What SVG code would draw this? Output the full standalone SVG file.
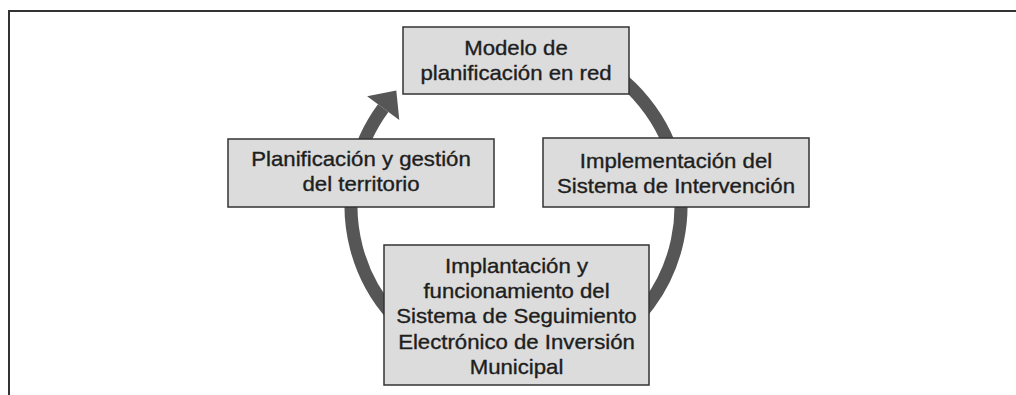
<svg xmlns="http://www.w3.org/2000/svg" width="1016" height="395" viewBox="0 0 1016 395">
<style>
.frame{fill:none;stroke:#333;stroke-width:2}
.ring{fill:none;stroke:#565656;stroke-width:13}
.head{fill:#565656}
.box{fill:#dcdcdc;stroke:#333;stroke-width:1.5}
.lbl{font-family:"Liberation Sans",Arial,Helvetica,sans-serif;font-size:20px;fill:#1e1e1e;stroke:#1e1e1e;stroke-width:0.35;text-anchor:middle}
</style>
<rect width="1016" height="395" fill="#fff"/>
<path class="frame" d="M9 395 V11 H1016"/>
<g id="connectors">
<path class="ring" d="M516 41 A165 165 0 1 1 383.2 108.1"/>
<polygon class="head" points="396.3,90.4 367.1,96.2 399.3,120"/>
</g>
<g id="node-modelo">
<rect class="box" x="403" y="27" width="226" height="67"/>
<text class="lbl" transform="matrix(1.11 0 0 1 516 0)"><tspan x="0" y="55">Modelo de</tspan><tspan x="0" y="80">planificación en red</tspan></text>
</g>
<g id="node-planificacion">
<rect class="box" x="228" y="139" width="266" height="68"/>
<text class="lbl" transform="matrix(1.11 0 0 1 361 0)"><tspan x="0" y="165.7">Planificación y gestión</tspan><tspan x="0" y="190.7">del territorio</tspan></text>
</g>
<g id="node-implementacion">
<rect class="box" x="543" y="138" width="266" height="69"/>
<text class="lbl" transform="matrix(1.11 0 0 1 676 0)"><tspan x="0" y="167.7">Implementación del</tspan><tspan x="0" y="192.7">Sistema de Intervención</tspan></text>
</g>
<g id="node-implantacion">
<rect class="box" x="384" y="245" width="265" height="140"/>
<text class="lbl" transform="matrix(1.11 0 0 1 516.5 0)"><tspan x="0" y="272.7">Implantación y</tspan><tspan x="0" y="298.1">funcionamiento del</tspan><tspan x="0" y="323.5">Sistema de Seguimiento</tspan><tspan x="0" y="348.9">Electrónico de Inversión</tspan><tspan x="0" y="374.3">Municipal</tspan></text>
</g>
</svg>
